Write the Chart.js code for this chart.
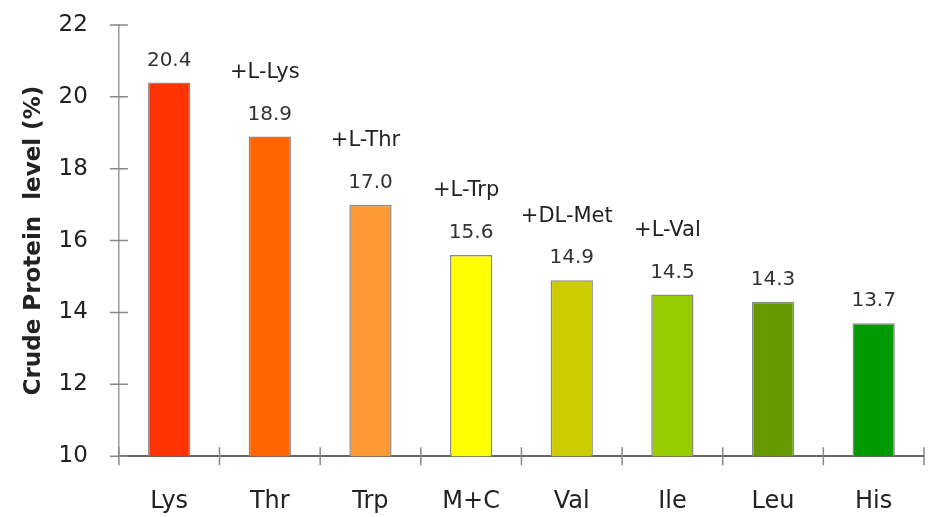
<!DOCTYPE html>
<html>
<head>
<meta charset="utf-8">
<script src="https://cdn.jsdelivr.net/npm/chart.js@4"></script>
<style>
  body { margin: 0; background: #fff; }
  #chart { display: block; }
</style>
</head>
<body>
<canvas id="chart" width="928" height="517"></canvas>
<script>
const categories = ["Lys", "Thr", "Trp", "M+C", "Val", "Ile", "Leu", "His"];
const crudeProtein = [20.4, 18.9, 17.0, 15.6, 14.9, 14.5, 14.3, 13.7];
const addedAminoAcid = ["", "+L-Lys", "+L-Thr", "+L-Trp", "+DL-Met", "+L-Val", "", ""];
const barColors = ["#ff3300", "#ff6600", "#ff9933", "#ffff00", "#cccc00", "#99cc00", "#669900", "#009900"];
const yTicks = [10, 12, 14, 16, 18, 20, 22];

const FONT = "'DejaVu Sans', sans-serif";

// value labels + the "+L-xxx" notes above the bars
const barLabels = {
  id: "barLabels",
  afterDatasetsDraw(chart) {
    const ctx = chart.ctx;
    const meta = chart.getDatasetMeta(0);
    ctx.save();
    ctx.textAlign = "center";
    ctx.textBaseline = "middle";
    meta.data.forEach((bar, i) => {
      ctx.fillStyle = "#333";
      ctx.font = "20px " + FONT;
      ctx.fillText(crudeProtein[i].toFixed(1), bar.x, bar.y - 22);
      if (addedAminoAcid[i]) {
        ctx.fillStyle = "#222";
        ctx.font = "21px " + FONT;
        ctx.fillText(addedAminoAcid[i], bar.x - 5, bar.y - 64);
      }
    });
    ctx.restore();
  }
};

// tick marks that cross the axis lines
const crossTicks = {
  id: "crossTicks",
  afterDraw(chart) {
    const ctx = chart.ctx;
    const xs = chart.scales.x, ys = chart.scales.y;
    ctx.save();
    ctx.strokeStyle = "#888";
    ctx.lineWidth = 1.5;
    ctx.beginPath();
    ys.ticks.forEach((t, i) => {
      const y = ys.getPixelForTick(i);
      ctx.moveTo(xs.left - 9, y);
      ctx.lineTo(xs.left + 9, y);
    });
    for (let i = 0; i <= categories.length; i++) {
      const x = xs.getPixelForValue(i - 0.5);
      ctx.moveTo(x, ys.bottom - 9);
      ctx.lineTo(x, ys.bottom + 9);
    }
    ctx.stroke();
    ctx.restore();
  }
};

new Chart(document.getElementById("chart"), {
  type: "bar",
  data: {
    labels: categories,
    datasets: [{
      data: crudeProtein,
      backgroundColor: barColors,
      borderColor: "#8a8a8a",
      borderWidth: 1.5,
      borderSkipped: "bottom",
      barPercentage: 0.84,
      categoryPercentage: 0.5
    }]
  },
  options: {
    responsive: false,
    animation: false,
    layout: { padding: { top: 25, right: 4, bottom: 1, left: 20 } },
    plugins: { legend: { display: false }, tooltip: { enabled: false } },
    scales: {
      x: {
        offset: true,
        grid: { display: false, drawTicks: true, tickLength: 31 },
        border: { color: "#666", width: 2 },
        ticks: { color: "#222", font: { size: 24, family: FONT }, padding: 0 }
      },
      y: {
        min: 10,
        max: 22,
        afterBuildTicks(scale) { scale.ticks = yTicks.map(v => ({ value: v })); },
        grid: { display: false, drawTicks: true, tickLength: 31 },
        border: { color: "#999", width: 1.5 },
        ticks: { color: "#222", font: { size: 23, family: FONT }, padding: 0 },
        title: {
          display: true,
          text: "Crude Protein  level (%)",
          color: "#222",
          font: { size: 23, weight: "bold", family: FONT },
          padding: { top: 0, bottom: 11 }
        }
      }
    }
  },
  plugins: [barLabels, crossTicks]
});
</script>
</body>
</html>
